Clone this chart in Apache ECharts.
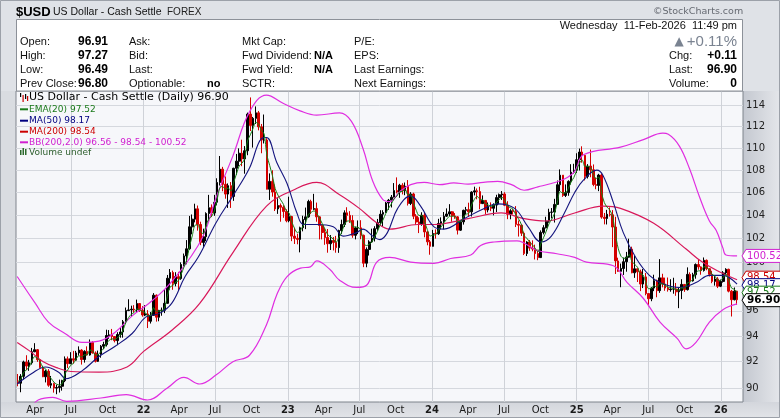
<!DOCTYPE html>
<html>
<head>
<meta charset="utf-8">
<title>$USD US Dollar - Cash Settle</title>
<script src="https://cdn.jsdelivr.net/npm/echarts@6/dist/echarts.min.js"></script>
<style>
html,body{margin:0;padding:0;background:#dfe2e7;overflow:hidden;}
#chart{width:780px;height:418px;}
</style>
</head>
<body>
<div id="chart"></div>
<script>
// ---------------- DATA (weekly) ----------------
const firstOpen = 90.48;
const close2021 = [90.36,90.88,91.98,91.67,91.92,92.77,92.93,92.16,91.56,90.85,91.28,90.21,90.33,89.99,90.03,90.13,90.55,92.22,91.85,92.23,92.12,92.68,92.90,92.17,92.80,92.52,93.50,92.68,92.03,92.58,93.20,93.33,94.04,94.08,93.96,93.64,94.12,94.32,95.13,96.03,96.08,96.14,96.08,96.59,96.04,95.67];
const high2021  = [91.06,91.05,92.08,92.50,92.14,93.07,93.44,92.98,92.18,91.68,91.37,91.43,90.91,90.40,90.24,90.63,90.62,92.41,92.40,92.74,92.84,92.84,93.19,92.97,92.89,93.19,93.73,93.59,92.80,92.86,93.29,93.55,94.50,94.47,94.56,94.00,94.30,94.64,95.27,96.27,96.94,96.42,96.46,96.91,96.60,96.38];
const low2021   = [90.13,89.68,90.63,91.37,91.30,91.78,92.74,91.99,91.49,90.82,90.42,90.09,89.98,89.65,89.53,89.66,89.80,90.44,91.51,91.81,91.85,92.07,92.48,91.78,91.93,92.48,92.47,92.63,91.94,91.98,92.31,92.98,93.18,93.78,93.67,93.50,93.28,93.87,93.87,94.96,95.98,95.52,95.86,95.86,95.92,95.53];
const close2022 = [95.75,95.17,95.64,97.27,95.49,96.04,96.05,96.61,98.66,99.13,98.23,98.79,98.63,99.80,100.52,101.12,103.00,103.66,104.56,103.20,101.66,102.15,104.15,104.66,104.20,105.14,106.89,108.09,106.73,105.86,106.61,105.65,108.17,108.82,109.54,109.02,109.77,113.19,112.12,112.79,113.31,111.99,110.76,110.76,106.29,106.99,106.04,104.55,104.85,104.70,104.33,103.52];
const high2022  = [96.46,96.06,95.91,97.44,97.33,96.08,96.27,97.74,98.93,99.42,99.29,99.16,99.19,99.98,100.72,101.86,103.94,104.07,105.01,104.85,103.44,102.84,104.26,105.79,104.95,105.79,107.27,109.29,108.30,107.43,106.81,106.93,108.22,109.48,109.99,110.79,110.20,113.33,114.78,112.92,113.92,113.49,112.26,113.15,110.93,107.71,107.99,106.71,105.49,105.03,104.87,104.52];
const low2022   = [95.58,94.63,94.99,95.64,95.14,95.17,95.61,95.82,96.66,97.72,97.71,97.99,97.69,98.53,99.65,99.82,101.04,102.35,103.38,102.67,101.43,101.29,101.77,103.41,103.84,103.95,104.87,106.62,106.11,105.45,104.64,104.64,105.26,107.58,108.34,108.36,107.68,109.36,111.60,110.06,112.26,111.66,109.54,110.44,106.27,105.34,105.63,104.37,104.12,103.44,103.78,103.39];
const close2023 = [103.89,102.20,102.01,101.92,102.92,103.63,103.86,105.21,104.52,104.58,103.86,103.12,102.51,102.08,101.55,101.83,101.66,101.22,102.68,103.20,104.21,103.99,103.55,102.27,102.90,102.91,102.27,99.91,101.07,101.70,102.02,102.84,103.36,104.09,104.24,105.07,105.32,105.58,106.17,106.04,106.65,106.16,106.56,105.03,105.87,103.92,103.42,103.27,104.00,102.56,101.71,101.33];
const high2023  = [105.63,103.95,102.90,102.40,103.01,103.96,104.67,105.36,105.36,105.88,105.11,103.91,103.20,102.87,102.81,102.29,102.12,102.22,102.75,103.62,104.43,104.70,104.36,104.00,103.01,103.55,103.57,102.33,101.24,101.85,102.84,103.05,103.68,104.44,104.44,105.16,105.43,105.78,106.84,107.35,106.77,106.83,106.89,107.11,106.03,105.98,104.10,103.82,104.26,104.20,102.66,101.87];
const low2023   = [103.39,101.77,101.53,101.50,100.82,102.61,102.80,103.79,104.10,104.45,103.44,101.92,101.92,101.46,100.79,101.02,100.98,100.79,100.78,102.38,102.98,103.40,103.34,102.06,101.92,102.37,101.93,99.58,99.57,100.55,101.62,101.74,102.66,103.20,103.03,104.20,104.47,104.68,105.57,105.92,105.53,105.83,105.76,104.85,104.89,103.66,103.17,102.46,103.09,102.10,101.42,100.62];
const close2024 = [102.42,102.40,103.29,103.44,103.92,104.11,104.30,103.94,103.86,102.71,103.43,104.43,104.49,104.30,106.04,106.15,106.08,105.02,105.30,104.46,104.72,104.61,104.89,105.55,105.80,105.87,104.88,104.09,104.39,104.33,103.21,103.14,102.45,100.72,101.70,101.18,101.10,100.72,100.38,102.52,102.92,103.49,104.26,104.28,104.95,106.69,107.55,105.74,105.99,106.99,107.82,108.00];
const high2024  = [102.73,102.78,103.69,103.82,104.28,104.60,104.97,104.37,104.19,103.93,103.50,104.49,104.73,105.10,106.11,106.52,106.36,106.51,105.74,105.32,105.12,105.13,105.04,105.80,105.91,106.13,106.03,105.23,104.53,104.53,104.80,103.55,103.22,102.58,101.77,101.87,101.84,101.47,101.05,102.69,103.14,103.87,104.57,104.63,105.44,107.07,108.07,107.55,106.72,107.09,108.54,108.58];
const low2024   = [101.34,101.98,102.30,102.77,102.78,103.85,103.92,103.44,103.69,102.34,102.65,103.19,104.10,103.89,103.89,105.74,105.40,104.52,104.98,104.08,104.25,104.36,103.99,104.28,104.95,105.34,104.80,103.66,103.65,104.08,102.98,102.16,102.21,100.59,100.51,100.95,100.91,100.22,100.16,100.37,102.35,102.86,103.35,103.73,103.37,104.93,106.13,105.61,105.60,105.71,106.71,107.69];
const close2025 = [108.95,109.65,109.35,107.44,108.37,108.04,106.71,106.63,107.56,103.84,103.72,104.09,104.04,102.98,100.10,99.23,99.47,100.03,100.42,101.09,99.11,99.44,99.19,98.18,98.77,97.40,96.98,97.85,98.46,97.64,98.69,98.18,97.85,97.72,97.77,97.77,97.55,97.65,98.15,97.72,98.98,98.44,98.95,99.80,99.60,99.30,100.15,99.45,98.98,98.40,98.60,98.00];
const high2025  = [109.54,109.97,110.18,109.37,108.55,109.88,108.52,107.30,107.67,107.70,104.20,104.47,104.68,104.45,103.87,100.37,99.88,100.38,100.86,101.98,101.30,100.54,99.45,99.37,99.42,99.09,97.41,97.92,98.95,98.55,100.25,99.03,98.71,98.72,98.58,98.70,98.27,97.88,98.58,98.17,99.56,99.15,99.11,99.89,100.26,99.65,100.39,100.22,99.48,99.28,98.84,98.75];
const low2025   = [107.74,107.97,108.68,107.08,107.25,107.36,106.56,106.29,106.12,103.70,103.21,103.20,103.89,101.26,99.01,99.19,97.92,98.93,99.20,100.36,99.07,98.69,98.35,97.60,97.85,97.26,96.38,96.78,97.60,97.10,97.46,97.91,97.63,97.56,97.55,97.39,97.22,96.22,96.95,97.54,97.65,97.93,98.38,98.62,99.37,98.95,99.21,99.32,98.80,98.25,98.05,97.85];
const close2026 = [98.40,99.10,99.40,97.60,96.90,97.60,96.90];
const high2026  = [98.55,99.25,99.49,99.45,97.70,97.90,97.63];
const low2026   = [97.93,98.30,98.95,97.50,95.55,96.85,96.49];

// EMA(20) read weekly
const ema2021 = [90.51,90.65,91.17,91.36,91.58,92.04,92.39,92.30,92.01,91.56,91.45,90.97,90.72,90.44,90.28,90.22,90.35,91.08,91.38,91.71,91.87,92.19,92.47,92.35,92.53,92.53,92.91,92.82,92.51,92.54,92.80,93.01,93.41,93.67,93.78,93.73,93.88,94.05,94.47,95.08,95.47,95.73,95.87,96.15,96.11,95.94];
const ema2022 = [95.87,95.60,95.62,96.26,95.96,95.99,96.01,96.24,97.18,97.94,98.05,98.34,98.45,98.98,99.58,100.18,101.28,102.21,103.13,103.16,102.57,102.41,103.09,103.70,103.90,104.38,105.36,106.42,106.54,106.28,106.41,106.11,106.91,107.66,108.39,108.64,109.08,110.68,111.24,111.84,112.41,112.25,111.67,111.32,109.36,108.44,107.50,106.35,105.77,105.35,104.95,104.39];
const ema2023 = [104.20,103.42,102.87,102.50,102.66,103.04,103.36,104.08,104.25,104.38,104.18,103.77,103.28,102.81,102.32,102.13,101.95,101.67,102.06,102.50,103.17,103.49,103.51,103.03,102.98,102.95,102.68,101.60,101.39,101.51,101.71,102.15,102.62,103.19,103.60,104.17,104.62,104.99,105.45,105.68,106.06,106.10,106.28,105.79,105.82,105.08,104.43,103.98,103.99,103.43,102.76,102.20];
const ema2024 = [102.29,102.33,102.70,102.99,103.35,103.65,103.90,103.92,103.90,103.44,103.44,103.83,104.09,104.17,104.90,105.39,105.66,105.41,105.37,105.01,104.90,104.79,104.83,105.11,105.38,105.57,105.30,104.83,104.66,104.53,104.02,103.68,103.20,102.23,102.02,101.69,101.46,101.17,100.86,101.51,102.06,102.62,103.26,103.66,104.16,105.15,106.09,105.95,105.97,106.37,106.94,107.35];
const ema2025 = [107.97,108.63,108.91,108.34,108.35,108.23,107.64,107.25,107.37,105.99,105.11,104.71,104.45,103.88,102.41,101.17,100.51,100.32,100.36,100.64,100.04,99.81,99.57,99.03,98.93,98.33,97.80,97.82,98.07,97.90,98.21,98.20,98.06,97.93,97.87,97.83,97.72,97.69,97.87,97.81,98.27,98.34,98.58,99.06,99.27,99.28,99.62,99.55,99.33,98.97,98.83,98.51];
const ema2026 = [98.47,98.72,98.99,98.45,97.85,97.75,97.52];

// MA(50), MA(200) and Bollinger bands, read at points along the curves
const ma50Pts = [['2021-02-15',90.3],['2021-03-24',91.1],['2021-04-28',91.6],['2021-05-31',91.2],['2021-06-18',90.7],['2021-07-29',91.3],['2021-09-10',92.4],['2021-10-21',93.2],['2021-12-03',94.2],['2022-01-06',95.5],['2022-02-10',95.8],['2022-03-13',96.6],['2022-04-16',98.8],['2022-05-19',100.4],['2022-07-04',103.4],['2022-08-15',105.7],['2022-09-26',108.2],['2022-10-26',110.9],['2022-11-08',111.0],['2022-12-04',108.7],['2022-12-30',106.8],['2023-01-24',104.2],['2023-02-10',103.2],['2023-03-15',103.2],['2023-04-26',103.0],['2023-05-21',102.2],['2023-06-24',102.5],['2023-07-10',102.8],['2023-08-04',102.2],['2023-08-22',101.9],['2023-09-10',102.5],['2023-10-06',104.6],['2023-11-08',105.7],['2023-12-03',104.8],['2024-01-06',103.0],['2024-01-31',102.8],['2024-03-22',103.7],['2024-05-12',104.6],['2024-06-15',105.0],['2024-07-28',104.6],['2024-08-31',103.0],['2024-10-03',101.7],['2024-10-29',102.2],['2024-12-01',104.2],['2024-12-27',106.0],['2025-01-18',107.1],['2025-02-21',108.0],['2025-03-09',107.5],['2025-04-04',105.1],['2025-04-29',102.5],['2025-06-01',100.3],['2025-07-04',98.9],['2025-08-07',98.2],['2025-09-18',97.9],['2025-10-30',98.3],['2025-12-03',98.9],['2026-01-06',98.9],['2026-02-11',98.17]];
const ma200Pts = [['2021-02-15',93.5],['2021-03-20',92.8],['2021-04-22',92.0],['2021-05-30',91.5],['2021-07-01',91.25],['2021-09-10',91.2],['2021-11-20',91.6],['2022-01-01',92.8],['2022-03-15',94.5],['2022-05-23',96.6],['2022-08-15',100.8],['2022-11-08',104.8],['2023-01-14',106.2],['2023-03-15',106.9],['2023-05-12',105.8],['2023-07-01',104.6],['2023-08-12',103.4],['2023-09-16',102.8],['2023-11-26',103.2],['2024-01-06',103.2],['2024-04-01',103.7],['2024-06-24',104.2],['2024-08-21',103.7],['2024-10-15',103.5],['2024-12-27',104.2],['2025-03-09',104.8],['2025-04-22',104.6],['2025-07-15',103.3],['2025-10-05',101.1],['2025-11-15',100.0],['2025-12-28',99.2],['2026-02-11',98.54]];
const bbUpperPts = [['2021-02-15',98.8],['2021-04-02',96.6],['2021-05-05',95.1],['2021-06-16',94.2],['2021-07-29',93.5],['2021-09-10',93.6],['2021-10-21',94.3],['2021-12-03',95.6],['2022-01-14',96.6],['2022-02-25',97.8],['2022-04-12',99.6],['2022-05-19',101.4],['2022-06-08',102.8],['2022-07-04',105.6],['2022-08-15',109.3],['2022-09-26',113.4],['2022-11-08',115.0],['2022-12-21',114.2],['2023-02-01',113.5],['2023-03-15',113.1],['2023-05-12',113.3],['2023-06-11',112.5],['2023-07-10',110.0],['2023-08-04',107.0],['2023-08-29',105.4],['2023-09-16',105.2],['2023-10-12',106.1],['2023-11-08',106.7],['2023-12-12',106.9],['2024-01-20',106.7],['2024-02-25',106.85],['2024-04-01',106.75],['2024-05-10',106.9],['2024-06-15',107.0],['2024-07-20',106.7],['2024-08-21',106.2],['2024-09-25',106.5],['2024-10-29',106.8],['2024-12-01',107.2],['2024-12-27',107.9],['2025-01-18',109.4],['2025-04-22',110.1],['2025-06-19',110.8],['2025-08-07',111.4],['2025-08-21',111.3],['2025-09-18',110.2],['2025-10-14',108.1],['2025-11-08',105.6],['2025-12-03',103.5],['2025-12-20',102.7],['2026-01-06',101.2],['2026-01-14',100.6],['2026-02-11',100.52]];
const bbLowerPts = [['2021-02-15',87.6],['2021-03-20',88.5],['2021-04-09',89.1],['2021-05-16',89.3],['2021-06-20',89.0],['2021-09-15',89.25],['2021-11-18',89.5],['2022-01-11',89.1],['2022-03-02',90.0],['2022-04-13',90.8],['2022-05-23',90.3],['2022-07-04',91.0],['2022-08-15',92.0],['2022-09-26',92.5],['2022-11-08',94.9],['2022-12-04',97.3],['2022-12-30',98.8],['2023-02-02',99.5],['2023-02-27',99.6],['2023-03-15',100.1],['2023-04-17',99.4],['2023-05-12',98.5],['2023-06-24',97.9],['2023-07-20',98.1],['2023-08-14',100.0],['2023-09-16',100.4],['2023-11-08',100.0],['2024-01-06',99.9],['2024-02-17',100.3],['2024-04-08',100.6],['2024-05-03',101.4],['2024-06-06',101.7],['2024-08-03',101.8],['2024-09-22',101.0],['2024-11-12',100.7],['2024-12-27',100.4],['2025-01-26',100.0],['2025-04-04',99.7],['2025-05-09',98.3],['2025-06-19',97.0],['2025-07-31',95.1],['2025-09-13',93.8],['2025-10-05',93.0],['2025-10-30',93.5],['2025-12-03',95.1],['2026-01-06',96.1],['2026-02-11',96.56]];

// Axis ticks
const yTicks = [90,92,94,96,98,100,102,104,106,108,110,112,114];
const xTickDates = ['2021-04-01','2021-07-01','2021-10-01','2022-01-01','2022-04-01','2022-07-01','2022-10-01','2023-01-01','2023-04-01','2023-07-01','2023-10-01','2024-01-01','2024-04-01','2024-07-01','2024-10-01','2025-01-01','2025-04-01','2025-07-01','2025-10-01','2026-01-01'];
const xTickLabels = ['Apr','Jul','Oct','22','Apr','Jul','Oct','23','Apr','Jul','Oct','24','Apr','Jul','Oct','25','Apr','Jul','Oct','26'];

// Last values shown on the right-hand tags
const lastTags = [
  {name:'MA200', value:98.54, color:'#cc0000'},
  {name:'MA50', value:98.17, color:'#000080'},
  {name:'EMA20', value:97.52, color:'#1a7a1a'},
  {name:'Close', value:96.90, color:'#000000', bold:true},
  {name:'BBupper', value:100.52, color:'#d020d0'}
];

// ---------------- BUILD ----------------
const ts = s => { const p = s.split('-').map(Number); return Date.UTC(p[0], p[1]-1, p[2]); };
const closes = [].concat(close2021, close2022, close2023, close2024, close2025, close2026);
const highs  = [].concat(high2021, high2022, high2023, high2024, high2025, high2026);
const lows   = [].concat(low2021, low2022, low2023, low2024, low2025, low2026);
const emas   = [].concat(ema2021, ema2022, ema2023, ema2024, ema2025, ema2026);
const DAY = 86400000;
const t0 = Date.UTC(2021, 1, 17);
const weekDates = closes.map((_, i) => t0 + i * 7 * DAY);
const candles = closes.map((c, i) => [weekDates[i], i === 0 ? firstOpen : closes[i-1], c, lows[i], highs[i]]);
const emaData = emas.map((v, i) => [weekDates[i], v]);
const pts = arr => arr.map(p => [ts(p[0]), p[1]]);

const FA = '"Liberation Sans", Arial, sans-serif';
const FV = '"DejaVu Sans", Verdana, sans-serif';

const gridLines = [];
yTicks.forEach(v => gridLines.push({
  yAxis: v,
  lineStyle: {color:'#d5d8de', width:1, type:'solid'},
  label: {show:true, position:'end', distance:3, formatter:String(v), color:'#222', fontSize:10, fontFamily:'DejaVu Sans'}
}));
xTickDates.forEach((d, i) => {
  const m = Number(d.split('-')[1]);
  const isGrid = (m === 1 || m === 7);
  const isYear = (m === 1);
  gridLines.push({
    xAxis: ts(d),
    lineStyle: {color: isGrid ? '#cfd2d8' : 'rgba(255,255,255,0)', width:1, type:'solid'},
    label: {show:true, position:'start', distance:3, formatter: xTickLabels[i], color:'#1a1a1a', fontSize:10, fontFamily:'DejaVu Sans', fontWeight: isYear ? 'bold' : 'normal'}
  });
});

const gEls = [];
function T(x, y, text, font, fill, align) {
  gEls.push({type:'text', x:x, y:y, z:20, silent:true,
    style:{text:text, font:font, fill:fill || '#000', textAlign:align || 'left', textVerticalAlign:'middle', align:align || 'left', verticalAlign:'middle'}});
}
function R(x, y, w, h, fill, stroke, z) {
  gEls.push({type:'rect', z:(z == null ? 5 : z), silent:true, shape:{x:x, y:y, width:w, height:h}, style:{fill:fill, stroke:stroke || null, lineWidth:1}});
}

// strips and panels
R(743, 91, 37, 311, {type:'linear', x:0, y:0, x2:1, y2:0, colorStops:[{offset:0, color:'#c4c8d0'},{offset:1, color:'#e4e6ea'}]}, null, -1);
R(0, 402, 780, 16, {type:'linear', x:0, y:0, x2:0, y2:1, colorStops:[{offset:0, color:'#d3d6dc'},{offset:1, color:'#e2e4e8'}]}, null, -1);
R(0, 91, 16, 311, '#d9dce1', null, -1);
R(16.5, 19.5, 726, 71.5, '#ffffff', '#8c9199', 4);
gEls.push({type:'rect', z:30, silent:true, shape:{x:0.5, y:0.5, width:779, height:417}, style:{fill:null, stroke:'#9ca1a9', lineWidth:1}});

// header
T(16, 12, '$USD', 'bold 13px ' + FA, '#000');
T(53, 12, 'US Dollar - Cash Settle', '10.5px ' + FA, '#111');
T(167, 12.5, 'FOREX', '10px ' + FA, '#222');
T(653, 11.5, '\u00A9StockCharts.com', '9.5px ' + FV, '#666a72');

// info panel
const rowY = [42, 56, 70, 84];
['Open:', 'High:', 'Low:', 'Prev Close:'].forEach((s, i) => T(20, rowY[i], s, '11px ' + FA, '#111'));
['96.91', '97.27', '96.49', '96.80'].forEach((s, i) => T(108, rowY[i], s, 'bold 12px ' + FA, '#000', 'right'));
['Ask:', 'Bid:', 'Last:', 'Optionable:'].forEach((s, i) => T(129, rowY[i], s, '11px ' + FA, '#111'));
T(207, rowY[3], 'no', 'bold 11px ' + FA, '#000');
['Mkt Cap:', 'Fwd Dividend:', 'Fwd Yield:', 'SCTR:'].forEach((s, i) => T(242, rowY[i], s, '11px ' + FA, '#111'));
T(333, rowY[1], 'N/A', 'bold 11px ' + FA, '#000', 'right');
T(333, rowY[2], 'N/A', 'bold 11px ' + FA, '#000', 'right');
['P/E:', 'EPS:', 'Last Earnings:', 'Next Earnings:'].forEach((s, i) => T(354, rowY[i], s, '11px ' + FA, '#111'));
T(737, 26, 'Wednesday  11-Feb-2026  11:49 pm', '11px ' + FA, '#111', 'right');
T(679, 41.5, '\u25B2', '12px ' + FV, '#7a8391', 'center');
T(737, 42, '+0.11%', '15px ' + FA, '#7a8391', 'right');
['Chg:', 'Last:', 'Volume:'].forEach((s, i) => T(669, rowY[i+1], s, '11px ' + FA, '#111'));
['+0.11', '96.90', '0'].forEach((s, i) => T(737, rowY[i+1], s, 'bold 12px ' + FA, '#000', 'right'));

// in-chart legend
[[20,93,4],[22.5,95,7],[25,94,5],[27,96,5]].forEach((b, i) => R(b[0], b[1], 1.2, b[2], i % 2 ? '#cc0000' : '#000', null, 20));
T(29, 97.5, 'US Dollar - Cash Settle (Daily) 96.90', '11px ' + FV, '#000');
const legRows = [
  ['EMA(20) 97.52', '#1a7a1a', 109.3],
  ['MA(50) 98.17', '#000080', 120.7],
  ['MA(200) 98.54', '#cc0000', 131.7],
  ['BB(200,2.0) 96.56 - 98.54 - 100.52', '#d020d0', 142.3]
];
legRows.forEach(r => { R(20, r[2] - 1, 8, 2, r[1], null, 20); T(29, r[2], r[0], '9px ' + FV, r[1]); });
[[20,150,5],[22.5,148,7],[25,149,6]].forEach(b => R(b[0], b[1], 1.5, b[2], '#2c6a2c', null, 20));
T(29, 152.3, 'Volume undef', '9px ' + FV, '#2c5e2c');

const lineBase = {type:'line', showSymbol:false, symbol:'none', silent:true, z:3, animation:false, clip:true};

const option = {
  animation: false,
  backgroundColor: 'transparent',
  grid: {left:16, right:37, top:91, bottom:16, show:true, backgroundColor:'#f6f7fa', borderColor:'#7f848c', borderWidth:1, containLabel:false},
  xAxis: {type:'time', min: ts('2021-02-12'), max: ts('2026-02-26'), axisLine:{show:false}, axisTick:{show:false}, axisLabel:{show:false}, splitLine:{show:false}},
  yAxis: {type:'log', logBase:10, min:88.95, max:115.4, position:'right', axisLine:{show:false}, axisTick:{show:false}, axisLabel:{show:false}, splitLine:{show:false}, minorSplitLine:{show:false}},
  graphic: {elements: gEls},
  series: [
    {type:'line', data:[[weekDates[0], 100]], showSymbol:false, symbol:'none', silent:true, clip:false, z:1, lineStyle:{opacity:0}, animation:false,
     markLine:{silent:true, symbol:['none','none'], z:1, animation:false, data: gridLines}},
    {type:'candlestick', data: candles, barWidth: 2.1, z:2, silent:true, animation:false,
     itemStyle:{color:'#000000', color0:'#d40000', borderColor:'#000000', borderColor0:'#d40000', borderWidth:1}},
    Object.assign({}, lineBase, {name:'BB upper', data: pts(bbUpperPts), smooth:0.4, lineStyle:{color:'#e02ee0', width:1.2}}),
    Object.assign({}, lineBase, {name:'BB lower', data: pts(bbLowerPts), smooth:0.4, lineStyle:{color:'#e02ee0', width:1.2}}),
    Object.assign({}, lineBase, {name:'MA200', data: pts(ma200Pts), smooth:0.4, lineStyle:{color:'#d8185a', width:1.2}}),
    Object.assign({}, lineBase, {name:'MA50', data: pts(ma50Pts), smooth:0.4, lineStyle:{color:'#14147e', width:1.1}}),
    Object.assign({}, lineBase, {name:'EMA20', data: emaData, smooth:0.3, lineStyle:{color:'#168016', width:1}})
  ]
};

const chart = echarts.init(document.getElementById('chart'), null, {renderer:'canvas'});
chart.setOption(option);

// value tags on the right axis, positioned through the y scale
const tagList = lastTags.map(t => Object.assign({}, t, {y: chart.convertToPixel({yAxisIndex:0}, t.value)}));
const stack = tagList.filter(t => t.name !== 'BBupper').sort((a, b) => a.y - b.y);
for (let it = 0; it < 30; it++) {
  for (let k = 0; k < stack.length - 1; k++) {
    const gap = stack[k+1].y - stack[k].y;
    if (gap < 7.5) { const d = (7.5 - gap) / 2; stack[k].y -= d; stack[k+1].y += d; }
  }
}
const tagEls = [];
tagList.forEach((t, i) => {
  const x0 = 742, y = t.y, h = 6.5;
  tagEls.push({type:'polygon', z:40 + i, silent:true,
    shape:{points:[[x0, y], [x0 + 4, y - h], [x0 + 40, y - h], [x0 + 40, y + h], [x0 + 4, y + h]]},
    style:{fill:'#ffffff', stroke:t.color, lineWidth:1}});
  tagEls.push({type:'text', x:x0 + 5, y:y, z:40 + i, silent:true,
    style:{text:t.value.toFixed(2), font:(t.bold ? 'bold 10.5px ' : '10px ') + FV, fill:t.color, textVerticalAlign:'middle', verticalAlign:'middle', textAlign:'left', align:'left'}});
});
chart.setOption({graphic:{elements: gEls.concat(tagEls)}});
</script>
</body>
</html>
